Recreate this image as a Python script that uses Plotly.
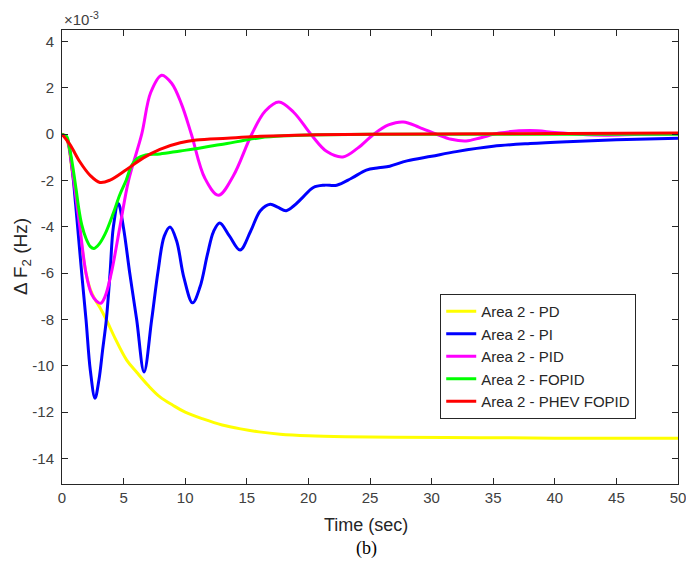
import plotly.graph_objects as go

# time (s) and Delta F2 (x10^-3 Hz)
t_pd = [0, 0.4, 0.8, 1.2, 1.6, 1.95, 2.3, 2.7, 3.1, 3.62, 4.3, 5.25, 6.1, 7.0, 7.95, 9.0, 10.0, 11.5,
        13.0, 14.5, 16.0, 17.7, 20, 23, 27, 33.9, 40, 50]
y_pd = [0, -0.25, -1.5, -3.1, -4.8, -6.0, -6.7, -7.15, -7.5, -8.03, -8.8, -9.75, -10.3, -10.85, -11.34,
        -11.7, -12.0, -12.3, -12.55, -12.72, -12.85, -12.95, -13.02, -13.06, -13.08, -13.1, -13.12, -13.13]

t_pi = [0, 0.4, 0.8, 1.1, 1.35, 1.65, 1.95, 2.3, 2.68, 3.0, 3.3, 3.6, 3.9, 4.17, 4.57, 4.98, 5.5, 6.06,
        6.66, 7.28, 7.8, 8.3, 8.77, 9.3, 9.9, 10.6, 11.2, 11.8, 12.3, 12.8, 13.6, 14.45, 15.3, 16.1, 16.9,
        17.5, 18.2, 18.8, 19.5, 20.4, 21.3, 22.3, 23.5, 24.7, 25.7, 26.6, 28, 30, 32, 35, 38, 41, 45, 50]
y_pi = [0, -0.2, -1.4, -3.0, -4.5, -6.3, -8.0, -10.2, -11.4, -10.6, -9.3, -8.0, -6.0, -4.0, -2.99, -4.0,
        -6.0, -8.0, -10.26, -8.0, -5.9, -4.4, -4.0, -4.6, -6.2, -7.28, -6.6, -5.2, -4.2, -3.83, -4.4, -5.0,
        -4.2, -3.3, -3.02, -3.15, -3.3, -3.1, -2.75, -2.3, -2.2, -2.2, -1.9, -1.55, -1.45, -1.38, -1.15,
        -0.95, -0.75, -0.52, -0.4, -0.32, -0.24, -0.17]

t_pid = [0, 0.4, 0.8, 1.2, 1.45, 1.95, 2.4, 2.8, 3.14, 3.5, 4.0, 4.7, 5.4, 6.47, 7.2, 8.09, 8.9, 9.7,
         10.5, 11.6, 12.7, 13.9, 15.4, 16.5, 17.6, 18.8, 20.2, 21.5, 22.8, 24, 25.3, 26.5, 27.7, 29, 30.4,
         31.6, 32.8, 34, 35.5, 38, 40, 42, 44, 47, 50]
y_pid = [0, -0.2, -1.4, -3.0, -4.0, -6.0, -6.9, -7.2, -7.3, -7.0, -6.0, -4.0, -2.0, 0, 1.8, 2.55, 2.2,
         1.3, 0, -1.9, -2.63, -1.8, 0, 1.0, 1.39, 0.95, 0, -0.75, -0.98, -0.6, 0, 0.4, 0.53, 0.3, 0,
         -0.22, -0.29, -0.15, 0.05, 0.16, 0.08, 0, -0.04, 0, 0.02]

t_fopid = [0, 0.38, 0.65, 0.92, 1.15, 1.33, 1.6, 1.95, 2.3, 2.6, 3.0, 3.5, 4.17, 4.7, 5.2, 5.65, 6.1, 6.8,
           7.95, 9.6, 10.7, 12, 13.4, 14.8, 16.1, 18, 20, 25, 50]
y_fopid = [0, -0.1, -0.7, -1.55, -2.4, -3.1, -3.9, -4.5, -4.85, -4.93, -4.75, -4.3, -3.4, -2.6, -2.0,
           -1.35, -1.05, -0.9, -0.85, -0.72, -0.64, -0.52, -0.4, -0.26, -0.15, -0.07, -0.03, 0, 0]

t_phev = [0, 0.65, 1.46, 2.27, 3.08, 3.9, 5.25, 6.6, 7.95, 9.6, 10.9, 13.4, 16.1, 20, 25, 35, 50]
y_phev = [0, -0.45, -1.2, -1.77, -2.08, -1.98, -1.52, -1.02, -0.65, -0.37, -0.25, -0.17, -0.09, -0.03,
          0, 0.02, 0.05]

names = ["Area 2 - PD", "Area 2 - PI", "Area 2 - PID", "Area 2 - FOPID", "Area 2 - PHEV FOPID"]
colors = ["#FFFF00", "#0000FF", "#FF00FF", "#00FF00", "#FF0000"]
series = [(t_pd, y_pd), (t_pi, y_pi), (t_pid, y_pid), (t_fopid, y_fopid), (t_phev, y_phev)]

x_ticks = list(range(0, 51, 5))
y_ticks = list(range(-14, 5, 2))
x_labels = [str(v) for v in x_ticks]
y_labels = [str(v) for v in y_ticks]

fig = go.Figure()
for (tx, ty), nm, c in zip(series, names, colors):
    fig.add_trace(go.Scatter(x=tx, y=ty, name=nm, mode="lines",
                             line=dict(color=c, width=3, shape="spline", smoothing=1.0)))

axis_common = dict(showline=True, linecolor="#262626", linewidth=1, mirror="ticks",
                   ticks="inside", ticklen=6, tickcolor="#262626", showgrid=False, zeroline=False,
                   automargin=False, ticklabeloverflow="allow",
                   tickfont=dict(family="Liberation Sans, Arial", size=15, color="#404040"))

fig.update_xaxes(range=[0, 50], tickvals=x_ticks, ticktext=x_labels, **axis_common)
fig.update_yaxes(range=[-15.1, 4.5], tickvals=y_ticks, ticktext=y_labels, ticklabelstandoff=4,
                 **axis_common)

fig.update_layout(
    width=686, height=567,
    margin=dict(l=62, r=8, t=30, b=83),
    paper_bgcolor="white", plot_bgcolor="white",
    showlegend=True,
    legend=dict(x=0.614, y=0.4185, xanchor="left", yanchor="top",
                bgcolor="white", bordercolor="#262626", borderwidth=1,
                font=dict(family="Liberation Sans, Arial", size=15, color="#262626"),
                tracegroupgap=0),
    annotations=[
        dict(text="×10<sup>-3</sup>", x=0, y=1, xref="paper", yref="paper", xanchor="left",
             yanchor="bottom", yshift=0, showarrow=False,
             font=dict(family="Liberation Sans, Arial", size=15, color="#404040")),
        dict(text="Δ F<sub>2</sub> (Hz)", x=0, y=0.5, xref="paper", yref="paper", xanchor="center",
             yanchor="middle", xshift=-40, textangle=-90, showarrow=False,
             font=dict(family="Liberation Sans, Arial", size=19, color="#262626")),
        dict(text="Time (sec)", x=0.5, y=0, xref="paper", yref="paper", xanchor="center",
             yanchor="middle", xshift=-4, yshift=-41, showarrow=False,
             font=dict(family="Liberation Sans, Arial", size=18, color="#262626")),
        dict(text="(b)", x=0.5, y=0, xref="paper", yref="paper", xanchor="center",
             yanchor="middle", xshift=-4, yshift=-64, showarrow=False,
             font=dict(family="Liberation Serif, Times New Roman", size=18, color="#000000")),
    ],
)

fig.write_html("out.html", config={"displayModeBar": False},
               post_script="document.body.style.margin='0';document.body.style.overflow='hidden';")
